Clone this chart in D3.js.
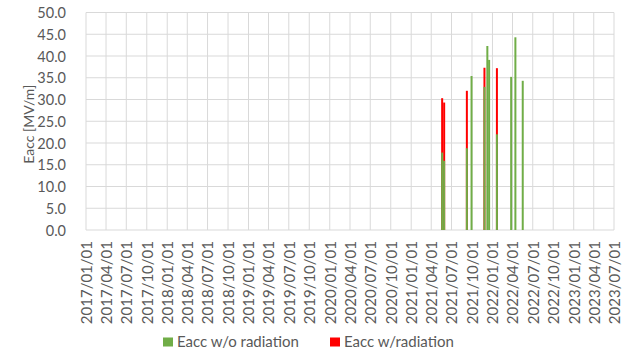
<!DOCTYPE html>
<html>
<head>
<meta charset="utf-8">
<script src="https://cdn.jsdelivr.net/npm/d3@7"></script>
<style>
  body { margin: 0; background: #fff; }
  text { font-family: Lato, "Open Sans", sans-serif; fill: #595959; }
</style>
</head>
<body>
<div id="chart"></div>
<script>
// measurement dates and gradients (MV/m)
const testDates = ['2021-05-20', '2021-05-29', '2021-09-08', '2021-09-29', '2021-11-26',
    '2021-12-09', '2021-12-17', '2022-01-21', '2022-03-26', '2022-04-14', '2022-05-17'];
const eaccNoRad = [17.8, 15.9, 18.8, 35.4, 32.9, 42.3, 39.1, 22.0, 35.2, 44.3, 34.3];
const eaccRad = [30.3, 29.3, 32.0, null, 37.3, null, null, 37.2, null, null, null];
const seriesNames = ['Eacc w/o radiation', 'Eacc w/radiation'];
const seriesColors = ['#70AD47', '#FF0000'];
const yTicks = [0, 5, 10, 15, 20, 25, 30, 35, 40, 45, 50];

const width = 629, height = 355;
const margin = { top: 12.5, right: 15, bottom: 125, left: 86 };

const parse = d3.timeParse('%Y-%m-%d');
const rows = testDates.map((d, i) => ({ date: parse(d), noRad: eaccNoRad[i], rad: eaccRad[i] }));

const svg = d3.select('#chart').append('svg')
    .attr('width', width)
    .attr('height', height);

const x = d3.scaleTime()
    .domain([parse('2017-01-01'), parse('2023-07-01')])
    .range([margin.left, width - margin.right]);

const y = d3.scaleLinear()
    .domain([0, 50])
    .range([height - margin.bottom, margin.top]);

const xTicks = d3.timeMonth.every(3).range(parse('2017-01-01'), parse('2023-07-02'));

// grid
svg.append('g')
    .selectAll('line')
    .data(yTicks)
    .enter().append('line')
    .attr('x1', x.range()[0]).attr('x2', x.range()[1])
    .attr('y1', d => y(d)).attr('y2', d => y(d))
    .attr('stroke', '#d9d9d9');

svg.append('g')
    .selectAll('line')
    .data(xTicks)
    .enter().append('line')
    .attr('x1', d => x(d)).attr('x2', d => x(d))
    .attr('y1', y(0)).attr('y2', y(50))
    .attr('stroke', '#d9d9d9');

// y axis labels
const yAxis = svg.append('g')
    .attr('transform', `translate(${margin.left - 20},0)`)
    .call(d3.axisLeft(y).tickValues(yTicks).tickFormat(d3.format('.1f')).tickSize(0).tickPadding(0));
yAxis.select('.domain').remove();
yAxis.selectAll('text')
    .style('font-size', '14.5px')
    .attr('fill', '#595959')
    .attr('dy', '0.35em');

// x axis labels
const xAxis = svg.append('g')
    .attr('transform', `translate(0,${y(0) + 11})`)
    .call(d3.axisBottom(x).tickValues(xTicks).tickFormat(d3.timeFormat('%Y/%m/%d')).tickSize(0).tickPadding(0));
xAxis.select('.domain').remove();
xAxis.selectAll('text')
    .style('font-size', '15px')
    .attr('fill', '#595959')
    .attr('text-anchor', 'end')
    .attr('transform', 'rotate(-90)')
    .attr('x', 0)
    .attr('y', 0)
    .attr('dy', '0.36em');

// axis title
svg.append('text')
    .attr('transform', `translate(29,${(y(0) + y(50)) / 2 + 3}) rotate(-90)`)
    .attr('text-anchor', 'middle')
    .attr('dy', '0.35em')
    .style('font-size', '14px')
    .text('Eacc [MV/m]');

// bars: radiation value behind, no-radiation value in front
const barW = 2;
svg.append('g')
    .selectAll('rect')
    .data(rows.filter(d => d.rad != null))
    .enter().append('rect')
    .attr('x', d => x(d.date) - barW / 2)
    .attr('width', barW)
    .attr('y', d => y(d.rad))
    .attr('height', d => y(0) - y(d.rad))
    .attr('fill', seriesColors[1]);

svg.append('g')
    .selectAll('rect')
    .data(rows)
    .enter().append('rect')
    .attr('x', d => x(d.date) - barW / 2)
    .attr('width', barW)
    .attr('y', d => y(d.noRad))
    .attr('height', d => y(0) - y(d.noRad))
    .attr('fill', seriesColors[0]);

// legend
const legendPos = [163, 330];
const legend = svg.append('g')
    .selectAll('g')
    .data(seriesNames)
    .enter().append('g')
    .attr('transform', (d, i) => `translate(${legendPos[i]},342)`);
legend.append('rect')
    .attr('x', 0).attr('y', -4.5)
    .attr('width', 10).attr('height', 9)
    .attr('fill', (d, i) => seriesColors[i]);
legend.append('text')
    .attr('x', 14)
    .attr('dy', '0.35em')
    .style('font-size', '15px')
    .text(d => d);
</script>
</body>
</html>
